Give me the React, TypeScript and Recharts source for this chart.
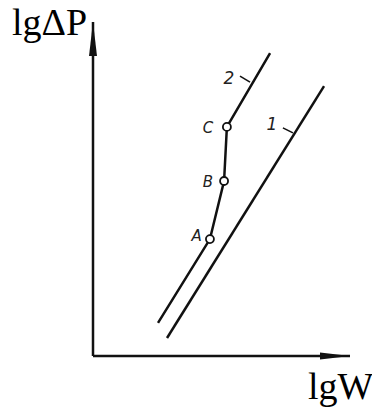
import React from 'react';
import {
  ComposedChart,
  Line,
  Scatter,
  XAxis,
  YAxis,
  ReferenceDot,
  ReferenceLine,
  Customized,
} from 'recharts';

// curve 1: straight line
const line1 = [
  { x: 2.88, y: 0.54 },
  { x: 8.99, y: 8.08 },
];

// curve 2: broken line through A, B, C
const line2 = [
  { x: 2.53, y: 0.99 },
  { x: 4.55, y: 3.5 },
  { x: 5.1, y: 5.24 },
  { x: 5.21, y: 6.86 },
  { x: 6.89, y: 9.07 },
];

const points = [
  { x: 4.55, y: 3.5, name: 'A' },
  { x: 5.1, y: 5.24, name: 'B' },
  { x: 5.21, y: 6.86, name: 'C' },
];

// text marks, placed in data units
const marks = [
  { x: 4.03, y: 3.6, name: 'A' },
  { x: 4.47, y: 5.22, name: 'B' },
  { x: 4.47, y: 6.83, name: 'C' },
  { x: 5.29, y: 8.32, name: '2' },
  { x: 6.96, y: 6.95, name: '1' },
];

const leader1 = [
  { x: 7.39, y: 6.83 },
  { x: 7.78, y: 6.68 },
];
const leader2 = [
  { x: 5.72, y: 8.38 },
  { x: 6.11, y: 8.2 },
];

const xLabel = 'lgW';
const yLabel = 'lgΔP';

const ArrowRight = (p: any) => (
  <polygon
    points={`${p.cx},${p.cy} ${p.cx - 30},${p.cy - 3.5} ${p.cx - 30},${p.cy + 3.5}`}
    fill="#111"
  />
);

const ArrowUp = (p: any) => (
  <polygon
    points={`${p.cx},${p.cy} ${p.cx - 4},${p.cy + 34} ${p.cx + 4},${p.cy + 34}`}
    fill="#111"
  />
);

const OpenDot = (p: any) => (
  <circle cx={p.cx} cy={p.cy} r={4} fill="#fff" stroke="#111" strokeWidth={1.8} />
);

const MarkText = (p: any) => (
  <text
    x={p.cx}
    y={p.cy}
    textAnchor="middle"
    dominantBaseline="central"
    fontFamily="DejaVu Sans"
    fontStyle="italic"
    fontSize={p.payload.name === '1' || p.payload.name === '2' ? 17 : 15}
    fill="#222"
  >
    {p.payload.name}
  </text>
);

const AxisTitles = () => (
  <g fontFamily="Liberation Serif" fontSize={38} fill="#000">
    <text x={12} y={35}>{yLabel}</text>
    <text x={308} y={399}>{xLabel}</text>
  </g>
);

export default function App() {
  return (
    <div style={{ position: 'absolute', left: 0, top: 0, background: '#fff' }}>
      <ComposedChart
        width={372}
        height={410}
        margin={{ top: 22, right: 22, bottom: 54, left: 93 }}
      >
        <XAxis type="number" dataKey="x" domain={[0, 10]} hide allowDataOverflow />
        <YAxis type="number" dataKey="y" domain={[0, 10]} hide allowDataOverflow />
        <ReferenceLine y={0} stroke="#111" strokeWidth={2.5} ifOverflow="visible" />
        <ReferenceLine x={0} stroke="#111" strokeWidth={2.5} ifOverflow="visible" />
        <Line
          data={line1}
          dataKey="y"
          stroke="#111"
          strokeWidth={2.5}
          dot={false}
          isAnimationActive={false}
        />
        <Line
          data={line2}
          dataKey="y"
          stroke="#111"
          strokeWidth={2.5}
          dot={false}
          isAnimationActive={false}
        />
        <ReferenceLine segment={leader1} stroke="#111" strokeWidth={1.6} />
        <ReferenceLine segment={leader2} stroke="#111" strokeWidth={1.6} />
        <Scatter data={points} dataKey="y" shape={OpenDot} isAnimationActive={false} />
        <Scatter data={marks} dataKey="y" shape={MarkText} isAnimationActive={false} />
        <ReferenceDot x={10} y={0} ifOverflow="visible" shape={ArrowRight} />
        <ReferenceDot x={0} y={10} ifOverflow="visible" shape={ArrowUp} />
        <Customized component={AxisTitles} />
      </ComposedChart>
    </div>
  );
}
